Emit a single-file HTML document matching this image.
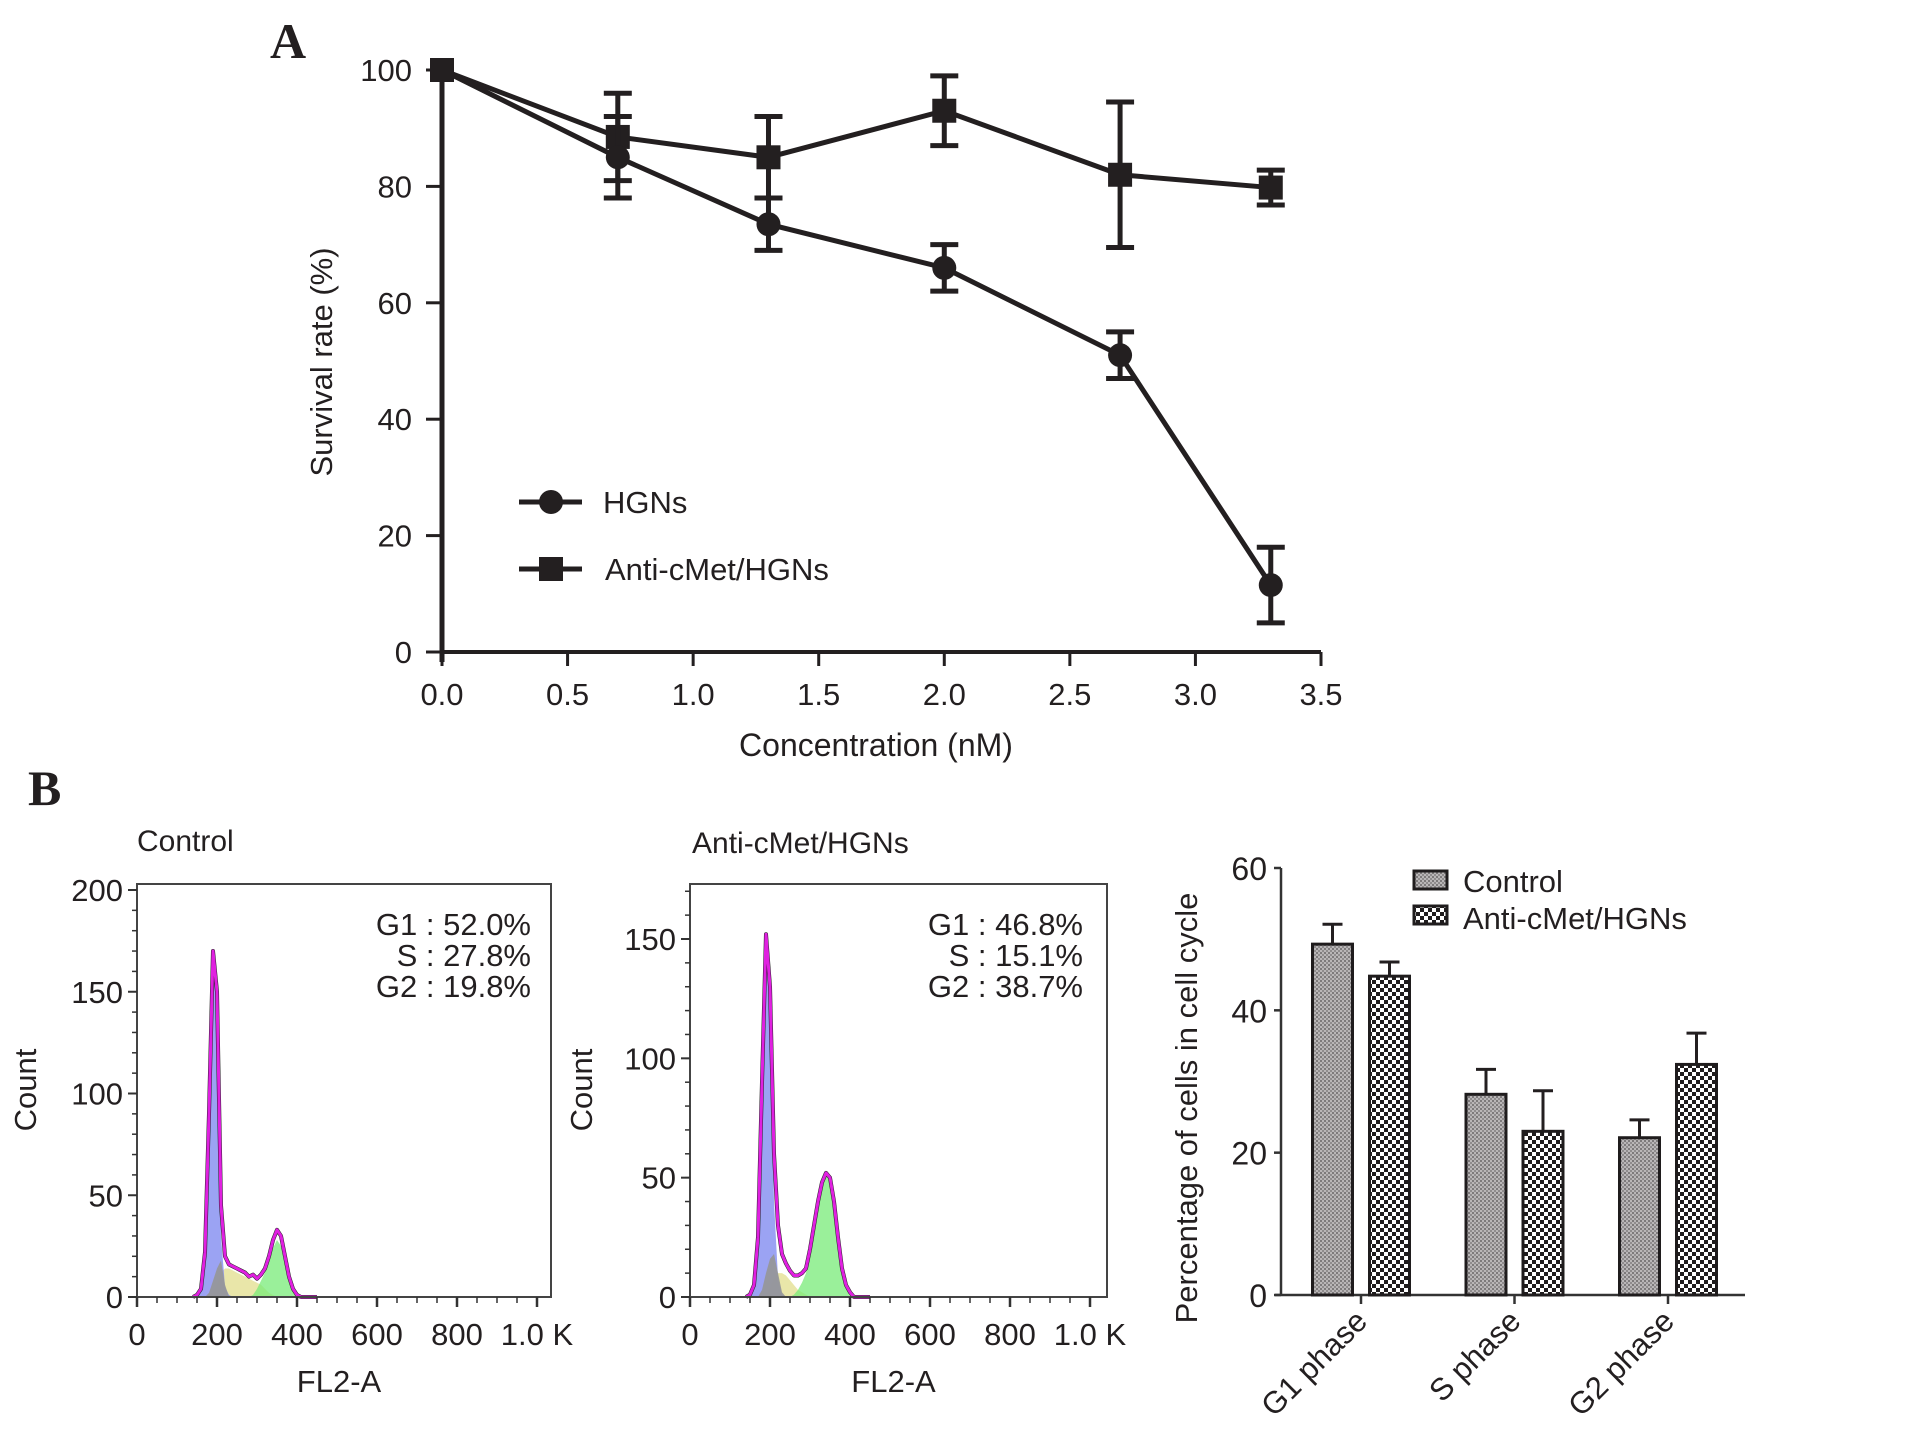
<!DOCTYPE html>
<html><head><meta charset="utf-8"><style>
html,body{margin:0;padding:0;background:#fff;}
svg{display:block;}
text{font-family:"Liberation Sans",Arial,sans-serif;fill:#231f20;}
</style></head><body>
<svg id="fig" width="1908" height="1439" viewBox="0 0 1908 1439" xmlns="http://www.w3.org/2000/svg">
<defs>
<pattern id="dotPat" width="4" height="4" patternUnits="userSpaceOnUse"><rect width="4" height="4" fill="#b9b6b7"/><rect width="2" height="2" fill="#7d7a7b"/><rect x="2" y="2" width="2" height="2" fill="#8f8c8d"/></pattern>
<pattern id="chkPat" width="8" height="8" patternUnits="userSpaceOnUse"><rect width="8" height="8" fill="#fff"/><rect width="4" height="4" fill="#1f1c1d"/><rect x="4" y="4" width="4" height="4" fill="#1f1c1d"/></pattern>
</defs>
<text x="270" y="58" font-weight="bold" font-size="50" style="font-family:'Liberation Serif',serif">A</text>
<text x="28" y="805" font-weight="bold" font-size="50" style="font-family:'Liberation Serif',serif">B</text>
<g id="chartA"></g>
<g id="hist1"></g>
<g id="hist2"></g>
<g id="bars"></g>
</svg>
<script>
// ---------- Chart A data ----------
const concX = [0, 0.7, 1.3, 2.0, 2.7, 3.3];
const hgnsY = [100, 85, 73.5, 66, 51, 11.5];
const hgnsErr = [0, 7, 4.5, 4, 4, 6.5];
const antiY = [100, 88.5, 85, 93, 82, 79.8];
const antiErr = [0, 7.5, 7, 6, 12.5, 3];
const aXTicks = [0, 0.5, 1.0, 1.5, 2.0, 2.5, 3.0, 3.5];
const aYTicks = [0, 20, 40, 60, 80, 100];

// ---------- Histogram data ----------
const histX = [140,150,160,170,180,190,200,210,220,230,240,250,260,270,280,290,300,310,320,330,340,350,360,370,380,390,400,410,420,430,440,450];
const ctrlTotal = [0,1,4,22,90,170,150,45,20,16,15,14,13,12,10,11,9,11,14,20,28,33,30,20,10,4,1,0,0,0,0,0];
const ctrlG1 =    [0,1,4,22,88,168,140,30,5,1,0,0,0,0,0,0,0,0,0,0,0,0,0,0,0,0,0,0,0,0,0,0];
const ctrlDebris =[0,0,0,0,2,8,14,18,6,0,0,0,0,0,0,0,0,0,0,0,0,0,0,0,0,0,0,0,0,0,0,0];
const ctrlS =     [0,0,0,0,0,2,6,12,14,14,13,12,11,10,9,8,7,6,4,2,1,0,0,0,0,0,0,0,0,0,0,0];
const ctrlG2 =    [0,0,0,0,0,0,0,0,0,0,0,0,0,0,0,1,4,8,12,18,24,28,25,17,8,3,1,0,0,0,0,0];
const trtTotal =  [0,1,5,25,90,152,130,60,30,18,14,11,9,9,10,12,20,30,40,48,52,50,40,25,12,5,2,0,0,0,0,0];
const trtG1 =     [0,1,5,25,88,148,120,40,8,1,0,0,0,0,0,0,0,0,0,0,0,0,0,0,0,0,0,0,0,0,0,0];
const trtDebris = [0,0,0,0,3,10,16,18,10,2,0,0,0,0,0,0,0,0,0,0,0,0,0,0,0,0,0,0,0,0,0,0];
const trtS =      [0,0,0,0,0,1,4,8,10,10,9,7,5,3,2,1,0,0,0,0,0,0,0,0,0,0,0,0,0,0,0,0];
const trtG2 =     [0,0,0,0,0,0,0,0,0,0,0,0,1,3,6,10,18,28,38,46,51,49,39,24,11,4,1,0,0,0,0,0];
const histXTicks = [0,200,400,600,800,1000];
const histXLabels = ["0","200","400","600","800","1.0 K"];
const ctrlYTicks = [0,50,100,150,200];
const trtYTicks = [0,50,100,150];
const ctrlStats = ["G1 : 52.0%","S : 27.8%","G2 : 19.8%"];
const trtStats = ["G1 : 46.8%","S : 15.1%","G2 : 38.7%"];

// ---------- Bar chart data ----------
const phases = ["G1 phase","S phase","G2 phase"];
const ctrlPct = [49.3, 28.2, 22.1];
const ctrlPctErr = [2.8, 3.5, 2.5];
const antiPct = [44.8, 23.0, 32.4];
const antiPctErr = [2.0, 5.7, 4.4];
const barYTicks = [0, 20, 40, 60];

const NS = "http://www.w3.org/2000/svg";
function mk(parent, tag, attrs, txt){
  const e = document.createElementNS(NS, tag);
  for (const k in attrs) e.setAttribute(k, attrs[k]);
  if (txt !== undefined) e.textContent = txt;
  parent.appendChild(e);
  return e;
}

// ================= Chart A =================
(function(){
  const g = document.getElementById('chartA');
  const X0=442, X1=1321, Y0=652, Y1=70;
  const sx = v => X0 + (v/3.5)*(X1-X0);
  const sy = v => Y0 - (v/100)*(Y0-Y1);
  let e;
  e = mk(g,'line',{x1:X0,y1:Y0+10,x2:X0,y2:Y1,stroke:'#231f20','stroke-width':5});
  
  
  e = mk(g,'line',{x1:X0,y1:Y0,x2:X1,y2:Y0,stroke:'#231f20','stroke-width':4});
  
  
  aYTicks.forEach(v=>{
    mk(g,'line',{x1:X0-16,y1:sy(v),x2:X0,y2:sy(v),stroke:'#231f20','stroke-width':3});
    e = mk(g,'text',{x:X0-30,y:sy(v)+11,'text-anchor':'end','font-size':31},String(v));
    
    
  });
  aXTicks.forEach(v=>{
    mk(g,'line',{x1:sx(v),y1:Y0,x2:sx(v),y2:Y0+14,stroke:'#231f20','stroke-width':3});
    e = mk(g,'text',{x:sx(v),y:Y0+53,'text-anchor':'middle','font-size':31},v.toFixed(1));
    
    
  });
  e = mk(g,'text',{x:0,y:0,'text-anchor':'middle','font-size':31,transform:'translate(332,362) rotate(-90)'},'Survival rate (%)');
  
  
  e = mk(g,'text',{x:876,y:756,'text-anchor':'middle','font-size':32},'Concentration (nM)');
  
  

  function series(ys, errs, shape, name){
    const s = mk(g,'g',{});
    
    
    const pts = concX.map((x,i)=>sx(x)+','+sy(ys[i])).join(' ');
    mk(s,'polyline',{points:pts,fill:'none',stroke:'#231f20','stroke-width':5});
    concX.forEach((x,i)=>{
      if (errs[i]>0){
        const cx=sx(x), t=sy(ys[i]+errs[i]), b=sy(ys[i]-errs[i]);
        mk(s,'line',{x1:cx,y1:t,x2:cx,y2:b,stroke:'#231f20','stroke-width':5});
        mk(s,'line',{x1:cx-14,y1:t,x2:cx+14,y2:t,stroke:'#231f20','stroke-width':5});
        mk(s,'line',{x1:cx-14,y1:b,x2:cx+14,y2:b,stroke:'#231f20','stroke-width':5});
      }
      let m;
      if (shape==='circle') m = mk(s,'circle',{cx:sx(x),cy:sy(ys[i]),r:12,fill:'#231f20'});
      else m = mk(s,'rect',{x:sx(x)-12,y:sy(ys[i])-12,width:24,height:24,fill:'#231f20'});
      
      
    });
  }
  series(antiY, antiErr, 'square', 'anti-cmet-series');
  series(hgnsY, hgnsErr, 'circle', 'hgns-series');

  const lg = mk(g,'g',{});
  
  
  mk(lg,'line',{x1:519,y1:502,x2:582,y2:502,stroke:'#231f20','stroke-width':5});
  mk(lg,'circle',{cx:551,cy:502,r:12,fill:'#231f20'});
  e = mk(lg,'text',{x:603,y:513,'font-size':31},'HGNs');
  
  
  mk(lg,'line',{x1:519,y1:569,x2:582,y2:569,stroke:'#231f20','stroke-width':5});
  mk(lg,'rect',{x:539,y:557,width:24,height:24,fill:'#231f20'});
  e = mk(lg,'text',{x:605,y:580,'font-size':31},'Anti-cMet/HGNs');
  
  
})();

// ================= Histograms =================
function histogram(gid, P, yMaxTick, yTicks, title, stats, comps){
  const g = document.getElementById(gid);
  const sx = v => P.x0 + v/1000*(P.x1000-P.x0);
  const sy = v => P.y0 - v/yMaxTick*(P.y0-P.yTop);
  let e;
  e = mk(g,'text',{x:P.titleX,y:P.titleY,'font-size':30},title);
  
  
  function area(arr, fill, name){
    let d = 'M'+sx(histX[0])+','+sy(0);
    histX.forEach((x,i)=>{ d+=' L'+sx(x)+','+sy(arr[i]); });
    d += ' L'+sx(histX[histX.length-1])+','+sy(0)+' Z';
    const p = mk(g,'path',{d:d,fill:fill,stroke:'none'});
    
    
  }
  function line(arr, stroke, w, name){
    const pts = histX.map((x,i)=>sx(x)+','+sy(arr[i])).join(' ');
    const p = mk(g,'polyline',{points:pts,fill:'none',stroke:stroke,'stroke-width':w,'stroke-linejoin':'round'});
    
    
  }
  area(comps.s,'rgba(225,222,140,0.75)','s-phase-area');
  area(comps.g2,'rgba(120,235,120,0.75)','g2-phase-area');
  area(comps.g1,'rgba(130,140,240,0.8)','g1-phase-area');
  area(comps.debris,'rgba(150,150,150,0.9)','debris-area');
  line(comps.total,'#222',4,'total-histogram-line');
  line(comps.total,'#e020e0',3,'model-fit-line');
  e = mk(g,'rect',{x:P.x0,y:P.boxTop,width:P.boxR-P.x0,height:P.y0-P.boxTop,fill:'none',stroke:'#444','stroke-width':2});
  
  
  yTicks.forEach(v=>{
    mk(g,'line',{x1:P.x0-9,y1:sy(v),x2:P.x0,y2:sy(v),stroke:'#333','stroke-width':2});
    e = mk(g,'text',{x:P.x0-14,y:sy(v)+11,'text-anchor':'end','font-size':31},String(v));
    
    
  });
  for(let v=0; v<=P.yMinorMax; v+=10){ mk(g,'line',{x1:P.x0-5,y1:sy(v),x2:P.x0,y2:sy(v),stroke:'#333','stroke-width':1.5}); }
  histXTicks.forEach((v,i)=>{
    mk(g,'line',{x1:sx(v),y1:P.y0,x2:sx(v),y2:P.y0+10,stroke:'#333','stroke-width':2.5});
    e = mk(g,'text',{x:sx(v),y:P.y0+48,'text-anchor':'middle','font-size':31},histXLabels[i]);
    
    
  });
  for(let v=0; v<=1000; v+=50){ mk(g,'line',{x1:sx(v),y1:P.y0,x2:sx(v),y2:P.y0+6,stroke:'#333','stroke-width':1.5}); }
  e = mk(g,'text',{x:0,y:0,'text-anchor':'middle','font-size':31,transform:'translate('+P.countX+',1090) rotate(-90)'},'Count');
  
  
  e = mk(g,'text',{x:(P.x0+P.boxR)/2-5,y:1392,'text-anchor':'middle','font-size':31},'FL2-A');
  
  
  stats.forEach((s,i)=>{
    e = mk(g,'text',{x:P.statX,y:935+i*31,'text-anchor':'end','font-size':31},s);
    
    
  });
}
histogram('hist1',{x0:137,x1000:537,boxR:551,y0:1297,yTop:890,boxTop:884,titleX:137,titleY:851,countX:36,statX:531,yMinorMax:200},200,ctrlYTicks,'Control',ctrlStats,
  {total:ctrlTotal,g1:ctrlG1,debris:ctrlDebris,s:ctrlS,g2:ctrlG2});
histogram('hist2',{x0:690,x1000:1090,boxR:1107,y0:1297,yTop:939,boxTop:884,titleX:692,titleY:853,countX:592,statX:1083,yMinorMax:170},150,trtYTicks,'Anti-cMet/HGNs',trtStats,
  {total:trtTotal,g1:trtG1,debris:trtDebris,s:trtS,g2:trtG2});

// ================= Bar chart =================
(function(){
  const g = document.getElementById('bars');
  const X0=1281, X1=1745, Y0=1295, Y60=868;
  const sy = v => Y0 - v/60*(Y0-Y60);
  const groupC = i => 1361 + i*153.5;
  const BW=40, OFF=28.5;
  let e;
  e = mk(g,'line',{x1:X0,y1:Y0,x2:X0,y2:Y60,stroke:'#333','stroke-width':2.5});
  
  
  e = mk(g,'line',{x1:X0-6,y1:Y0,x2:X1,y2:Y0,stroke:'#333','stroke-width':2.5});
  
  
  barYTicks.forEach(v=>{
    mk(g,'line',{x1:X0-7,y1:sy(v),x2:X0,y2:sy(v),stroke:'#333','stroke-width':2.5});
    e = mk(g,'text',{x:X0-14,y:sy(v)+12,'text-anchor':'end','font-size':32},String(v));
    
    
  });
  function bar(cx, v, err, fill, name){
    const top = sy(v), et = sy(v+err);
    mk(g,'line',{x1:cx,y1:top,x2:cx,y2:et,stroke:'#231f20','stroke-width':3});
    mk(g,'line',{x1:cx-10,y1:et,x2:cx+10,y2:et,stroke:'#231f20','stroke-width':3});
    const r = mk(g,'rect',{x:cx-BW/2,y:top,width:BW,height:Y0-top,fill:fill,stroke:'#1f1c1d','stroke-width':3});
    
    
  }
  phases.forEach((p,i)=>{
    const c = groupC(i);
    bar(c-OFF, ctrlPct[i], ctrlPctErr[i], 'url(#dotPat)', 'bar-control-'+i);
    bar(c+OFF, antiPct[i], antiPctErr[i], 'url(#chkPat)', 'bar-anti-cmet-'+i);
    mk(g,'line',{x1:c,y1:Y0,x2:c,y2:Y0+9,stroke:'#333','stroke-width':2.5});
    const t = mk(g,'text',{x:0,y:0,'text-anchor':'end','font-size':31,transform:'translate('+(c+8)+','+(Y0+28)+') rotate(-45)'},p);
    
    
  });
  e = mk(g,'text',{x:0,y:0,'text-anchor':'middle','font-size':31,transform:'translate(1197,1108) rotate(-90)'},'Percentage of cells in cell cycle');
  
  
  const lg = mk(g,'g',{});
  
  
  mk(lg,'rect',{x:1414,y:871,width:33,height:18,fill:'url(#dotPat)',stroke:'#1f1c1d','stroke-width':3});
  e = mk(lg,'text',{x:1463,y:892,'font-size':31},'Control');
  
  
  mk(lg,'rect',{x:1414,y:906,width:33,height:18,fill:'url(#chkPat)',stroke:'#1f1c1d','stroke-width':3});
  e = mk(lg,'text',{x:1463,y:929,'font-size':31},'Anti-cMet/HGNs');
  
  
})();
</script>
</body></html>
